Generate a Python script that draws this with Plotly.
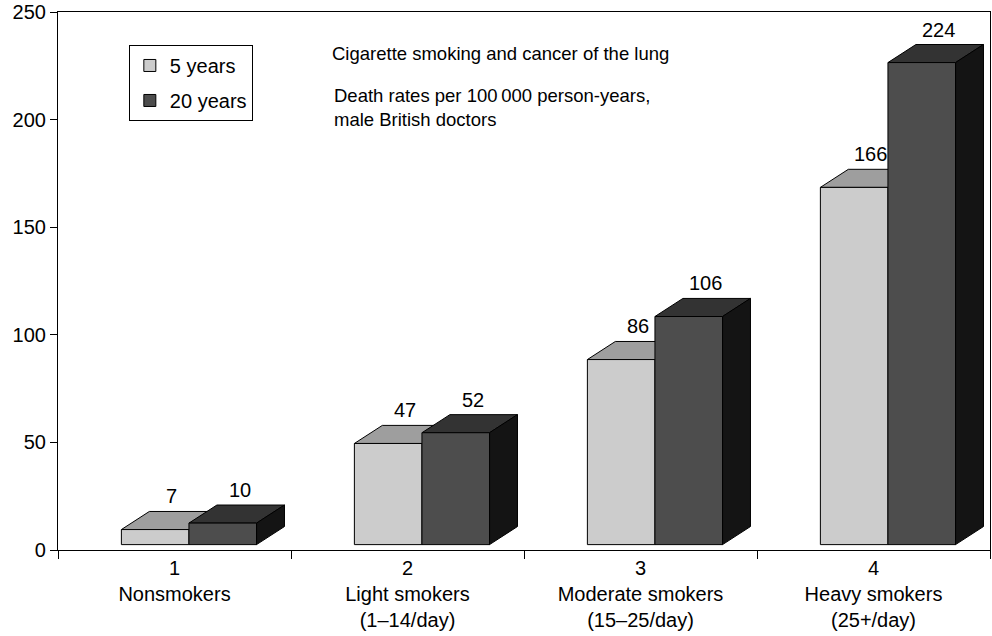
import plotly.graph_objects as go

# ---- data ----
categories = [
    "1<br>Nonsmokers",
    "2<br>Light smokers<br>(1–14/day)",
    "3<br>Moderate smokers<br>(15–25/day)",
    "4<br>Heavy smokers<br>(25+/day)",
]
series_names = ["5 years", "20 years"]
values_5y = [7, 47, 86, 166]
values_20y = [10, 52, 106, 224]
ytick_vals = [0, 50, 100, 150, 200, 250]
title_line = "Cigarette smoking and cancer of the lung"
subtitle_lines = ["Death rates per 100\u2009000 person-years,", "male British doctors"]

# ---- pseudo-3D geometry (style constants) ----
xpos = list(range(1, len(categories) + 1))
BASE = 2.5      # front-face floor offset (value units)
DX = 0.12       # depth shift to the right (category units)
DY = 8.4        # depth shift upward (value units)
BW = 0.29       # bar width (category units)
OFF_L = -0.228  # offset of the 5-year bar
OFF_D = OFF_L + BW

FONT = "Liberation Sans, Arial, Helvetica, sans-serif"
C_FRONT_L, C_TOP_L = "#cccccc", "#9e9e9e"
C_FRONT_D, C_TOP_D, C_SIDE_D = "#4d4d4d", "#333333", "#141414"
EDGE = dict(color="#000000", width=1)

fig = go.Figure()
fig.add_trace(go.Bar(
    x=xpos, y=values_5y, base=BASE, offset=OFF_L, width=BW,
    name=series_names[0], legendgroup="a",
    marker=dict(color=C_FRONT_L, line=EDGE), hoverinfo="skip",
))
fig.add_trace(go.Bar(
    x=xpos, y=values_20y, base=BASE, offset=OFF_D, width=BW,
    name=series_names[1], legendgroup="b",
    marker=dict(color=C_FRONT_D, line=EDGE), hoverinfo="skip",
))


def poly(pts):
    return "M" + " L".join(f"{a},{b}" for a, b in pts) + " Z"


shapes = []
annotations = []
for xi, v5, v20 in zip(xpos, values_5y, values_20y):
    for v, off, ctop, cside in ((v5, OFF_L, C_TOP_L, None), (v20, OFF_D, C_TOP_D, C_SIDE_D)):
        x0, x1 = xi + off, xi + off + BW
        top = BASE + v
        shapes.append(dict(type="path", xref="x", yref="y", layer="below",
                           path=poly([(x0, top), (x1, top), (x1 + DX, top + DY), (x0 + DX, top + DY)]),
                           fillcolor=ctop, line=EDGE))
        if cside:
            shapes.append(dict(type="path", xref="x", yref="y", layer="below",
                               path=poly([(x1, BASE), (x1 + DX, BASE + DY), (x1 + DX, top + DY), (x1, top)]),
                               fillcolor=cside, line=EDGE))
        annotations.append(dict(x=x0 + BW / 2 + DX * 0.6, y=top + DY, xref="x", yref="y",
                                text=str(v), showarrow=False, yanchor="bottom", yshift=2,
                                font=dict(size=20, color="#000000", family=FONT)))

annotations.append(dict(x=0.2918, y=0.922, xref="paper", yref="paper", text=title_line,
                        showarrow=False, xanchor="left", yanchor="middle", align="left",
                        font=dict(size=18.5, color="#000000", family=FONT)))
annotations.append(dict(x=0.294, y=0.8216, xref="paper", yref="paper", text="<br>".join(subtitle_lines),
                        showarrow=False, xanchor="left", yanchor="middle", align="left",
                        font=dict(size=18.5, color="#000000", family=FONT)))

fig.update_layout(
    width=992, height=636,
    margin=dict(l=58, r=2, t=12, b=86),
    paper_bgcolor="white", plot_bgcolor="white",
    barmode="overlay",
    font=dict(family=FONT, size=20, color="#000000"),
    shapes=shapes, annotations=annotations,
    showlegend=True,
    legend=dict(x=0.076, y=0.9387, xanchor="left", yanchor="top",
                bordercolor="#000000", borderwidth=1, bgcolor="white",
                font=dict(size=20, family=FONT, color="#000000"),
                tracegroupgap=6, traceorder="grouped"),
    xaxis=dict(range=[0.5, 4.5], tickvals=xpos, ticktext=categories, ticks="",
               showline=True, linecolor="#000000", linewidth=1.2, mirror=True,
               showgrid=False, zeroline=False, fixedrange=True, automargin=False,
               tickfont=dict(size=20, family=FONT, color="#000000"),
               minor=dict(tickmode="linear", tick0=0.5, dtick=1, ticks="outside",
                          ticklen=8, tickcolor="#000000", tickwidth=1.2, showgrid=False)),
    yaxis=dict(range=[0, 250], tickvals=ytick_vals, ticks="outside", ticklen=7,
               tickcolor="#000000", tickwidth=1.2, automargin=False,
               showline=True, linecolor="#000000", linewidth=1.2, mirror=True,
               showgrid=False, zeroline=False, fixedrange=True,
               tickfont=dict(size=20, family=FONT, color="#000000")),
)

fig.write_html("out.html", config={"displayModeBar": False},
               post_script="document.body.style.margin='0px';document.body.style.overflow='hidden';")
